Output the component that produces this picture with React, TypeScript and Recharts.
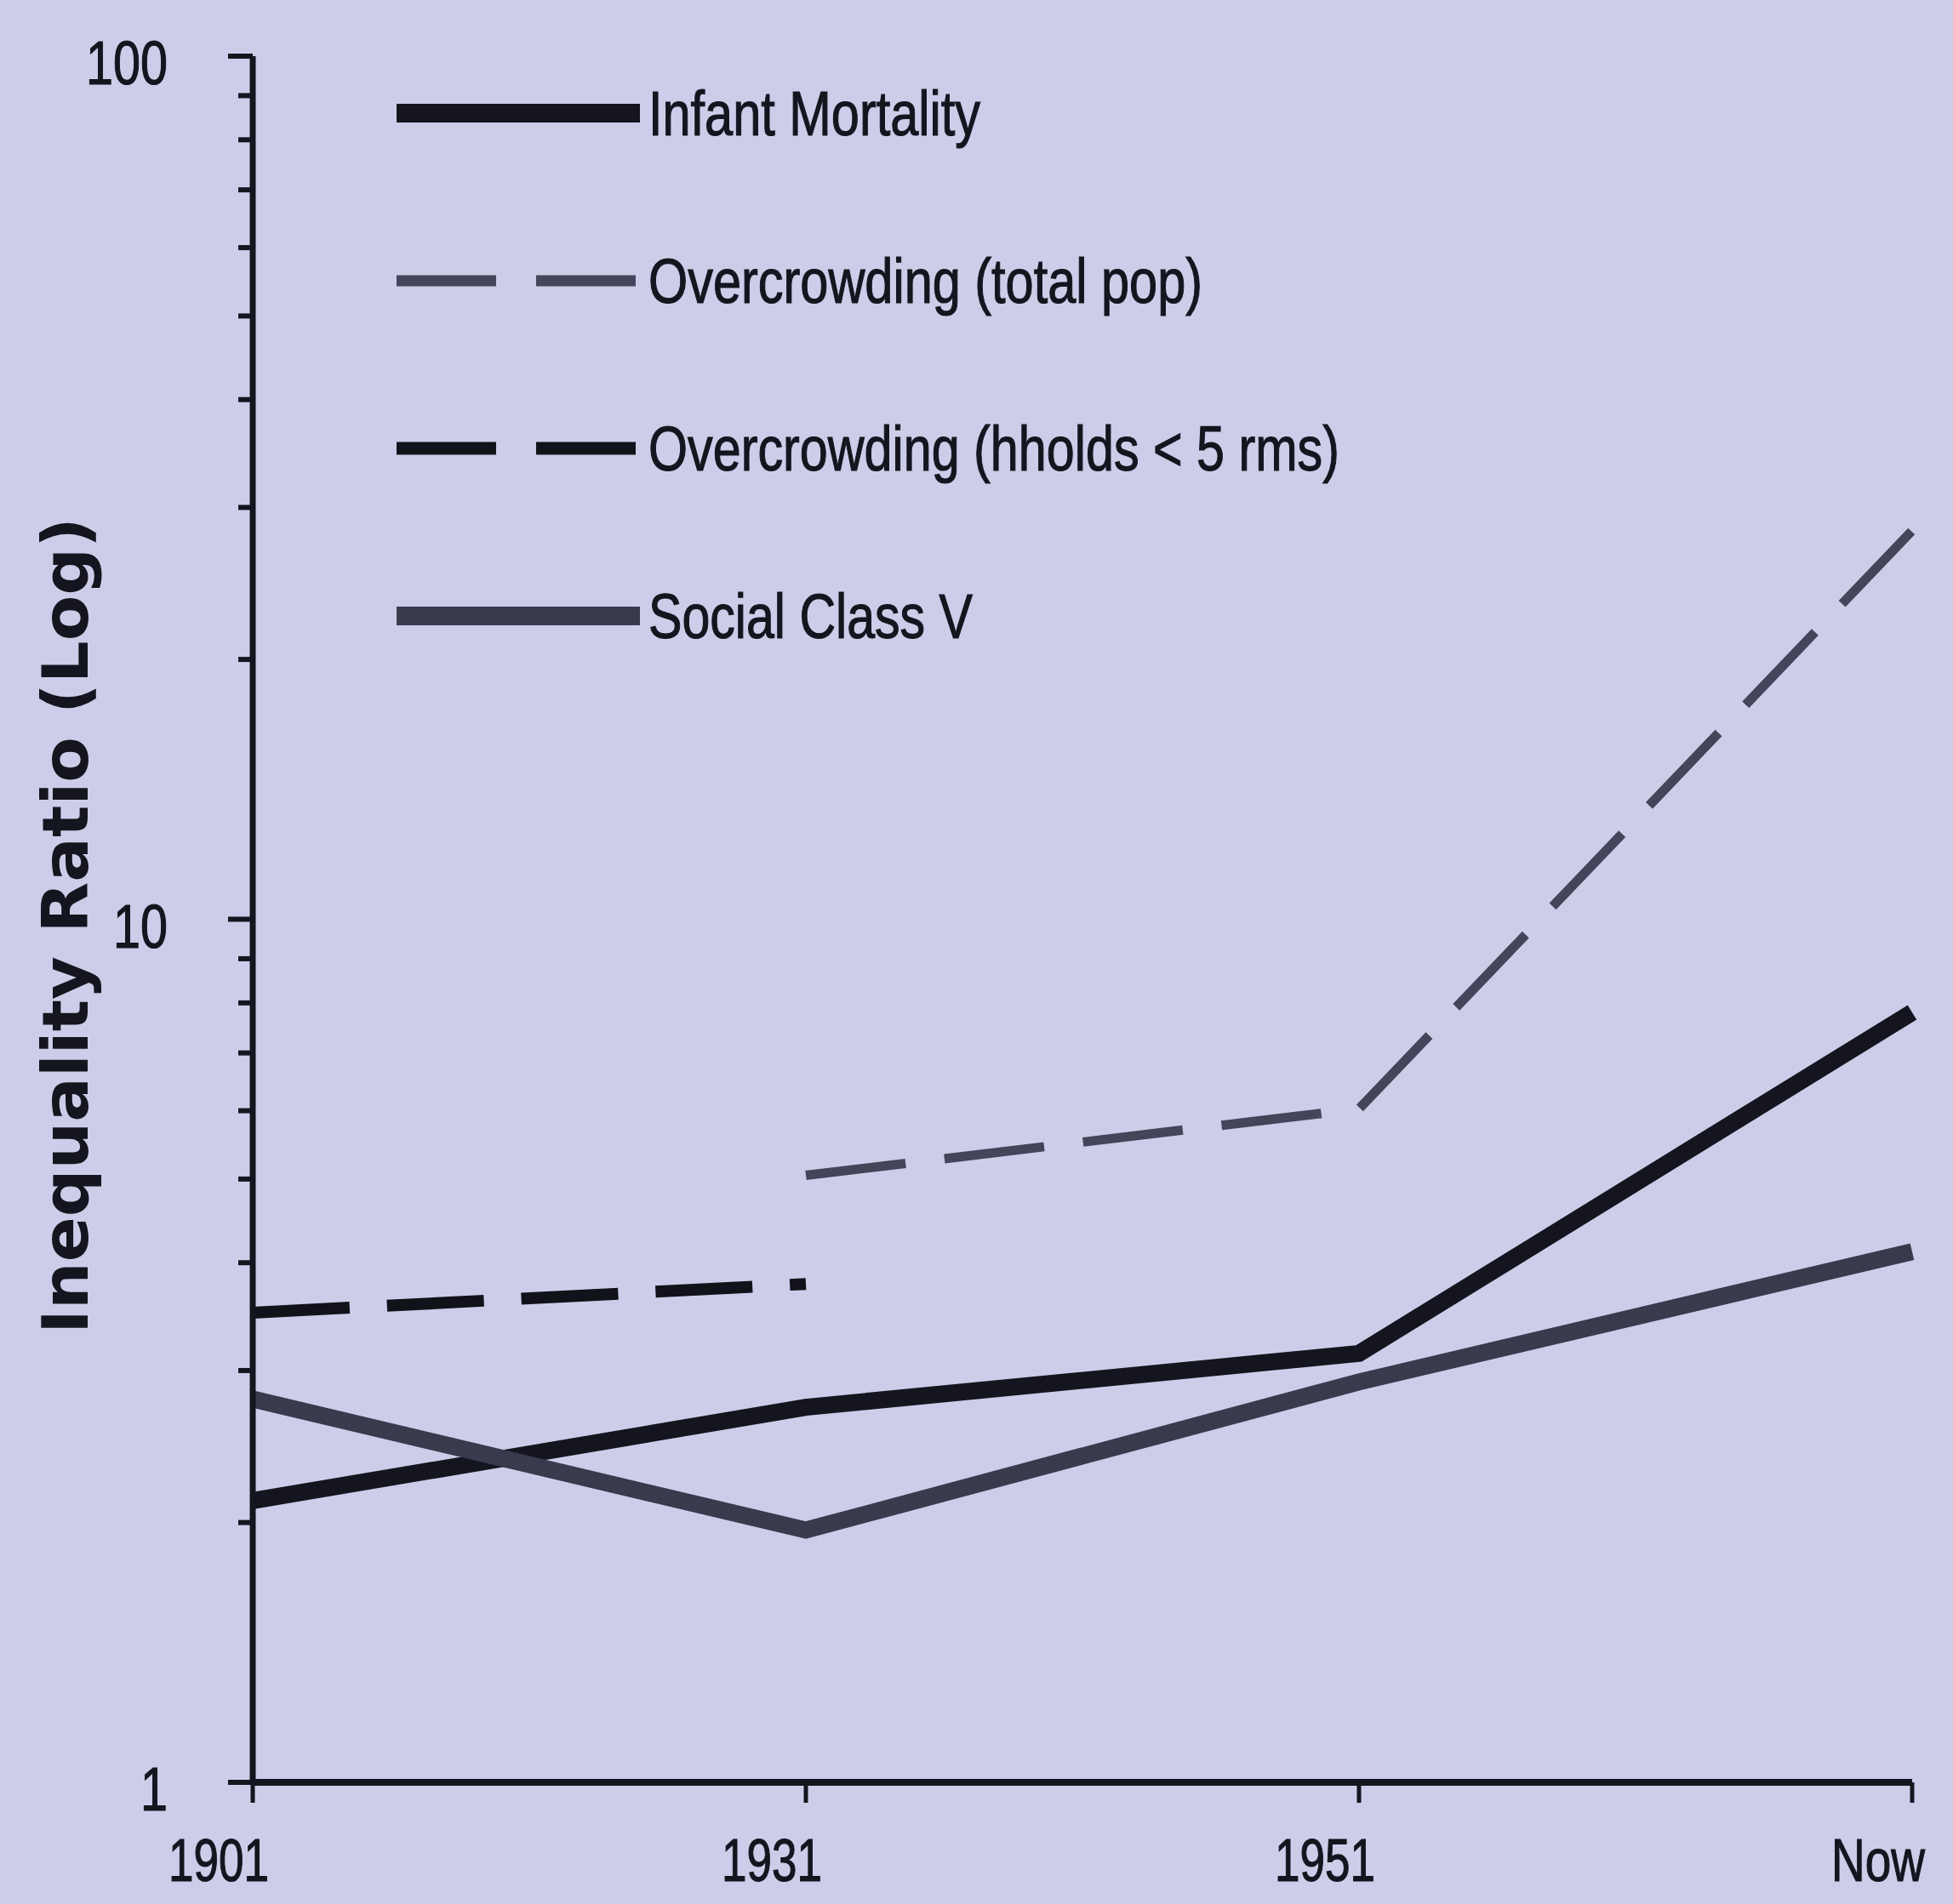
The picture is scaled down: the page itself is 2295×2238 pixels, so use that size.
import React from 'react';
import { LineChart, Line, XAxis, YAxis, Legend } from 'recharts';

const years = ['1901', '1931', '1951', 'Now'];
const infantMortality = [2.12, 2.72, 3.14, 7.8];
const overcrowdingTotalPop = [null, 5.05, 6.03, 28.2];
const overcrowdingHholds = [3.5, 3.78, null, null];
const socialClassV = [2.78, 1.96, 2.91, 4.12];

const yTicks = [1, 2, 3, 4, 5, 6, 7, 8, 9, 10, 20, 30, 40, 50, 60, 70, 80, 90, 100];
const yLabels = [1, 10, 100];

const data = years.map((year, i) => ({
  year,
  infant: infantMortality[i],
  total: overcrowdingTotalPop[i],
  hholds: overcrowdingHholds[i],
  social: socialClassV[i],
}));

const series = [
  { key: 'infant', name: 'Infant Mortality', color: '#15151f', width: 20, legendW: 22, dash: undefined, textW: 390 },
  { key: 'total', name: 'Overcrowding (total pop)', color: '#44445a', width: 11, legendW: 13, dash: '118 46', textW: 651 },
  { key: 'hholds', name: 'Overcrowding (hholds < 5 rms)', color: '#12121b', width: 14, legendW: 15, dash: '114 44', textW: 812 },
  { key: 'social', name: 'Social Class V', color: '#3a3a4e', width: 20, legendW: 22, dash: undefined, textW: 381 },
];

const INK = '#15151f';
const BG = '#cccee9';
const FONT = "'Liberation Sans Narrow', 'Liberation Sans', Arial, sans-serif";

const YTick = (props: any) => {
  const { x, y, payload } = props;
  const v = payload.value;
  const major = yLabels.includes(v);
  const len = major ? 29 : 17;
  const label = String(v);
  return (
    <g>
      <line x1={x - len} x2={x} y1={y} y2={y} stroke={INK} strokeWidth={6} />
      {major && (
        <text
          x={x - 100}
          y={y + 33}
          textAnchor="end"
          fontSize={72}
          fontFamily={FONT}
          fill={INK}
          stroke={INK}
          strokeWidth={1.2}
          textLength={label.length * 32}
          lengthAdjust="spacingAndGlyphs"
        >
          {label}
        </text>
      )}
    </g>
  );
};

const XTick = (props: any) => {
  const { x, y, payload } = props;
  const label = String(payload.value);
  return (
    <text
      x={x - 40}
      y={y + 92}
      textAnchor="middle"
      fontSize={70}
      fontFamily={FONT}
      fill={INK}
      stroke={INK}
      strokeWidth={1.2}
      textLength={label.length === 4 ? 118 : 110}
      lengthAdjust="spacingAndGlyphs"
    >
      {label}
    </text>
  );
};

const renderLegend = () => (
  <svg width={1900} height={800}>
    {series.map((s, i) => {
      const rowY = 133 + i * 197;
      return (
        <g key={s.key}>
          <line
            x1={466}
            x2={752}
            y1={rowY}
            y2={rowY}
            stroke={s.color}
            strokeWidth={s.legendW}
            strokeDasharray={s.dash ? '117 47' : undefined}
          />
          <text
            x={762}
            y={rowY + 26}
            fontSize={74}
            fontFamily={FONT}
            fill={INK}
            stroke={INK}
            strokeWidth={1.2}
            textLength={s.textW}
            lengthAdjust="spacingAndGlyphs"
          >
            {s.name}
          </text>
        </g>
      );
    })}
  </svg>
);

const renderYLabel = () => (
  <text
    x={103}
    y={1088}
    transform="rotate(-90, 103, 1088)"
    textAnchor="middle"
    fontSize={74}
    fontWeight="bold"
    fontFamily="'DejaVu Sans', sans-serif"
    fill={INK}
    textLength={960}
    lengthAdjust="spacingAndGlyphs"
  >
    Inequality Ratio (Log)
  </text>
);

export default function App() {
  return (
    <div style={{ position: 'absolute', left: 0, top: 0, width: 2295, height: 2238, background: BG }}>
      <LineChart width={2295} height={2238} data={data} margin={{ top: 66, right: 48, left: 0, bottom: 0 }}>
        <XAxis
          dataKey="year"
          height={143}
          interval={0}
          axisLine={{ stroke: INK, strokeWidth: 8 }}
          tickLine={{ stroke: INK, strokeWidth: 5 }}
          tickSize={24}
          tickMargin={0}
          tick={<XTick />}
        />
        <YAxis
          scale="log"
          domain={[1, 100]}
          ticks={yTicks}
          interval={0}
          allowDataOverflow
          width={297}
          axisLine={{ stroke: INK, strokeWidth: 7 }}
          tickLine={false}
          tickSize={0}
          tickMargin={0}
          tick={<YTick />}
          label={{ content: renderYLabel }}
        />
        <Legend
          layout="horizontal"
          verticalAlign="middle"
          align="center"
          content={renderLegend}
          wrapperStyle={{ top: 0, left: 0, width: 1900, height: 800 }}
        />
        {series.map((s) => (
          <Line
            key={s.key}
            dataKey={s.key}
            name={s.name}
            type="linear"
            stroke={s.color}
            strokeWidth={s.width}
            strokeDasharray={s.dash}
            strokeLinecap="butt"
            strokeLinejoin="miter"
            dot={false}
            activeDot={false}
            isAnimationActive={false}
          />
        ))}
      </LineChart>
    </div>
  );
}
